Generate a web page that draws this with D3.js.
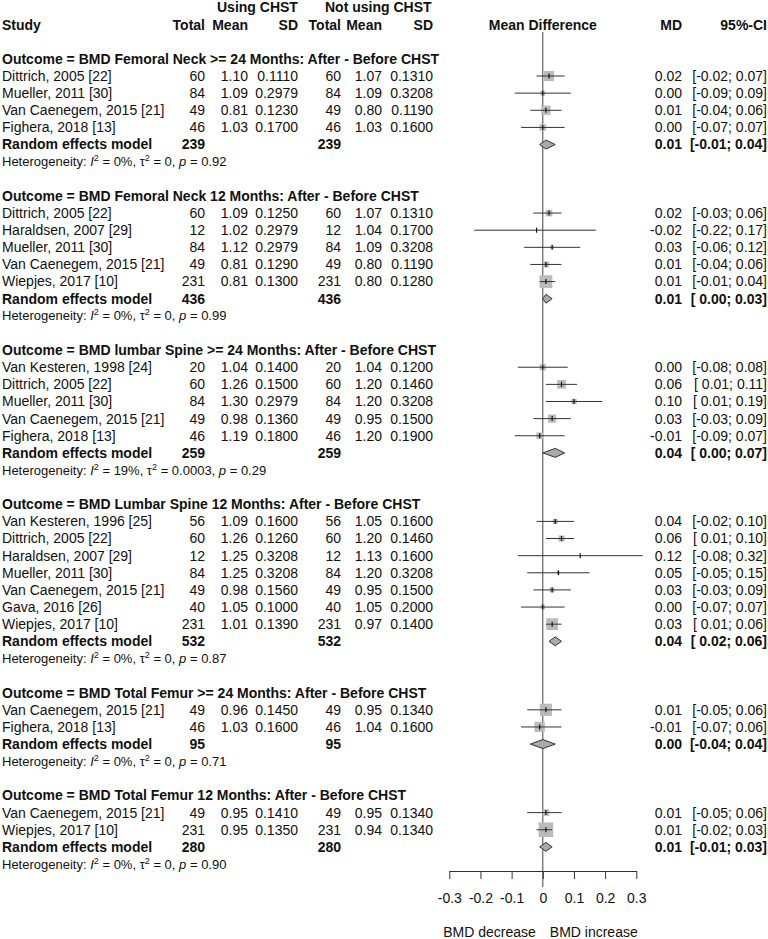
<!DOCTYPE html>
<html><head><meta charset="utf-8">
<script src="https://cdn.jsdelivr.net/npm/d3@7"></script>
<style>
body{margin:0;background:#fff;}
svg text{font-family:"Liberation Sans",Arial,sans-serif;fill:#111;white-space:pre;}
</style></head><body>
<svg id="chart" width="768" height="939"></svg>
<script>
// ---------------- data ----------------
const outcomeLabels = [
  "Outcome = BMD Femoral Neck >= 24 Months: After - Before CHST",
  "Outcome = BMD Femoral Neck 12 Months: After - Before CHST",
  "Outcome = BMD lumbar Spine >= 24 Months: After - Before CHST",
  "Outcome = BMD Lumbar Spine 12 Months: After - Before CHST",
  "Outcome = BMD Total Femur >= 24 Months: After - Before CHST",
  "Outcome = BMD Total Femur 12 Months: After - Before CHST"
];
const studyGroup = [0,0,0,0, 1,1,1,1,1, 2,2,2,2,2, 3,3,3,3,3,3,3, 4,4, 5,5];
const studyName = [
  "Dittrich, 2005 [22]","Mueller, 2011 [30]","Van Caenegem, 2015 [21]","Fighera, 2018 [13]",
  "Dittrich, 2005 [22]","Haraldsen, 2007 [29]","Mueller, 2011 [30]","Van Caenegem, 2015 [21]","Wiepjes, 2017 [10]",
  "Van Kesteren, 1998 [24]","Dittrich, 2005 [22]","Mueller, 2011 [30]","Van Caenegem, 2015 [21]","Fighera, 2018 [13]",
  "Van Kesteren, 1996 [25]","Dittrich, 2005 [22]","Haraldsen, 2007 [29]","Mueller, 2011 [30]","Van Caenegem, 2015 [21]","Gava, 2016 [26]","Wiepjes, 2017 [10]",
  "Van Caenegem, 2015 [21]","Fighera, 2018 [13]",
  "Van Caenegem, 2015 [21]","Wiepjes, 2017 [10]"
];
const totalE = [60,84,49,46, 60,12,84,49,231, 20,60,84,49,46, 56,60,12,84,49,40,231, 49,46, 49,231];
const meanE  = [1.10,1.09,0.81,1.03, 1.09,1.02,1.12,0.81,0.81, 1.04,1.26,1.30,0.98,1.19, 1.09,1.26,1.25,1.25,0.98,1.05,1.01, 0.96,1.03, 0.95,0.95];
const sdE    = [0.1110,0.2979,0.1230,0.1700, 0.1250,0.2979,0.2979,0.1290,0.1300, 0.1400,0.1500,0.2979,0.1360,0.1800, 0.1600,0.1260,0.3208,0.3208,0.1560,0.1000,0.1390, 0.1450,0.1600, 0.1410,0.1350];
const totalC = [60,84,49,46, 60,12,84,49,231, 20,60,84,49,46, 56,60,12,84,49,40,231, 49,46, 49,231];
const meanC  = [1.07,1.09,0.80,1.03, 1.07,1.04,1.09,0.80,0.80, 1.04,1.20,1.20,0.95,1.20, 1.05,1.20,1.13,1.20,0.95,1.05,0.97, 0.95,1.04, 0.95,0.94];
const sdC    = [0.1310,0.3208,0.1190,0.1600, 0.1310,0.1700,0.3208,0.1190,0.1280, 0.1200,0.1460,0.3208,0.1500,0.1900, 0.1600,0.1460,0.1600,0.3208,0.1500,0.2000,0.1400, 0.1340,0.1600, 0.1340,0.1340];
const md     = [0.02,0.00,0.01,0.00, 0.02,-0.02,0.03,0.01,0.01, 0.00,0.06,0.10,0.03,-0.01, 0.04,0.06,0.12,0.05,0.03,0.00,0.03, 0.01,-0.01, 0.01,0.01];
const ciLow  = [-0.02,-0.09,-0.04,-0.07, -0.03,-0.22,-0.06,-0.04,-0.01, -0.08,0.01,0.01,-0.03,-0.09, -0.02,0.01,-0.08,-0.05,-0.03,-0.07,0.01, -0.05,-0.07, -0.05,-0.02];
const ciHigh = [0.07,0.09,0.06,0.07, 0.06,0.17,0.12,0.06,0.04, 0.08,0.11,0.19,0.09,0.07, 0.10,0.10,0.32,0.15,0.09,0.07,0.06, 0.06,0.06, 0.06,0.03];
const weightPct = [40.8,8.8,33.5,16.9, 16.8,0.9,4.0,14.6,63.7, 15.2,29.4,11.8,26.7,17.0, 10.0,14.7,0.85,3.7,9.5,7.3,54.0, 58.3,41.7, 16.9,83.1];

const pooledTotalE = [239,436,259,532,95,280];
const pooledTotalC = [239,436,259,532,95,280];
const pooledMD     = [0.01,0.01,0.04,0.04,0.00,0.01];
const pooledLow    = [-0.01,0.00,0.00,0.02,-0.04,-0.01];
const pooledHigh   = [0.04,0.03,0.07,0.06,0.04,0.03];
const hetI2   = ["0%","0%","19%","0%","0%","0%"];
const hetTau2 = ["0","0","0.0003","0","0","0"];
const hetP    = ["0.92","0.99","0.29","0.87","0.71","0.90"];

const xTickValues = [-0.3,-0.2,-0.1,0,0.1,0.2,0.3];
const xTickLabels = ["-0.3","-0.2","-0.1","0","0.1","0.2","0.3"];

// ---------------- layout ----------------
const svg = d3.select("#chart");
svg.append("rect").attr("width",768).attr("height",939).attr("fill","#fff");

const FS = 14;
const x = d3.scaleLinear().domain([-0.3,0.3]).range([449.3,636.3]);
const yRow = d3.scaleLinear().domain([0,50]).range([7.5,864]);
const boxSize = d3.scaleSqrt().domain([0,100]).range([0,16]);

const col = {study:2, nE:205, mE:248, sdE:298, nC:341, mC:382, sdC:433, md:682, ci:767};

const f2 = v => (v<0?"-":"") + Math.abs(v).toFixed(2);
const f4 = v => v.toFixed(4);
const ciStr = (lo,hi) => "[" + (lo<0 ? "-" : " ") + Math.abs(lo).toFixed(2) + "; " + f2(hi) + "]";

function txt(xp, row, s, anchor, bold, size){
  return svg.append("text")
    .attr("x", xp).attr("y", yRow(row)).attr("dy","0.35em")
    .attr("text-anchor", anchor||"start")
    .attr("font-weight", bold?"bold":"normal")
    .attr("font-size", size||FS)
    .attr("xml:space","preserve")
    .text(s);
}

// headers
txt(217,0,"Using CHST","start",true);
txt(325,0,"Not using CHST","start",true);
txt(col.study,1,"Study","start",true);
txt(col.nE,1,"Total","end",true);
txt(col.mE,1,"Mean","end",true);
txt(col.sdE,1,"SD","end",true);
txt(col.nC,1,"Total","end",true);
txt(col.mC,1,"Mean","end",true);
txt(col.sdC,1,"SD","end",true);
txt(x(0),1,"Mean Difference","middle",true);
txt(col.md,1,"MD","end",true);
txt(col.ci,1,"95%-CI","end",true);

// reference line
const plot = svg.append("g");
plot.append("line")
  .attr("x1",x(0)).attr("x2",x(0)).attr("y1",32).attr("y2",887)
  .attr("stroke","#444").attr("stroke-width",1);

// rows
let row = 3;
outcomeLabels.forEach((lab, g) => {
  txt(col.study,row,lab,"start",true);
  row++;
  studyGroup.forEach((sg,i) => {
    if (sg!==g) return;
    txt(col.study,row,studyName[i]);
    txt(col.nE,row,String(totalE[i]),"end");
    txt(col.mE,row,f2(meanE[i]),"end");
    txt(col.sdE,row,f4(sdE[i]),"end");
    txt(col.nC,row,String(totalC[i]),"end");
    txt(col.mC,row,f2(meanC[i]),"end");
    txt(col.sdC,row,f4(sdC[i]),"end");
    txt(col.md,row,f2(md[i]),"end");
    txt(col.ci,row,ciStr(ciLow[i],ciHigh[i]),"end");
    const yy = yRow(row), s = boxSize(weightPct[i]);
    plot.append("rect").attr("x",x(md[i])-s/2).attr("y",yy-s/2)
      .attr("width",s).attr("height",s).attr("fill","#bbbbbb");
    plot.append("line").attr("x1",x(ciLow[i])).attr("x2",x(ciHigh[i]))
      .attr("y1",yy).attr("y2",yy).attr("stroke","#333").attr("stroke-width",1);
    plot.append("line").attr("x1",x(md[i])).attr("x2",x(md[i]))
      .attr("y1",yy-2.5).attr("y2",yy+2.5).attr("stroke","#111").attr("stroke-width",1.2);
    row++;
  });
  // pooled
  txt(col.study,row,"Random effects model","start",true);
  txt(col.nE,row,String(pooledTotalE[g]),"end",true);
  txt(col.nC,row,String(pooledTotalC[g]),"end",true);
  txt(col.md,row,f2(pooledMD[g]),"end",true);
  txt(col.ci,row,ciStr(pooledLow[g],pooledHigh[g]),"end",true);
  const yy = yRow(row), h = 4.5;
  plot.append("path")
    .attr("d", `M${x(pooledLow[g])},${yy}L${x(pooledMD[g])},${yy-h}L${x(pooledHigh[g])},${yy}L${x(pooledMD[g])},${yy+h}Z`)
    .attr("fill","#a9a9a9").attr("stroke","#333").attr("stroke-width",1);
  row++;
  // heterogeneity
  const t = svg.append("text").attr("x",col.study).attr("y",yRow(row)).attr("dy","0.35em")
    .attr("font-size",13).attr("xml:space","preserve");
  t.append("tspan").text("Heterogeneity: ");
  t.append("tspan").attr("font-style","italic").text("I");
  t.append("tspan").attr("font-size",9).attr("dy",-5).text("2");
  t.append("tspan").attr("dy",5).text(" = " + hetI2[g] + ", \u03c4");
  t.append("tspan").attr("font-size",9).attr("dy",-5).text("2");
  t.append("tspan").attr("dy",5).text(" = " + hetTau2[g] + ", ");
  t.append("tspan").attr("font-style","italic").text("p");
  t.append("tspan").text(" = " + hetP[g]);
  row += 2;
});

// axis
const axis = d3.axisBottom(x).tickValues(xTickValues)
  .tickFormat((d,i)=>xTickLabels[i]).tickSize(8).tickSizeOuter(0).tickPadding(14);
const ax = svg.append("g").attr("transform","translate(0,871)").call(axis);
ax.select(".domain").attr("stroke","#333");
ax.selectAll(".tick line").attr("stroke","#333");
ax.selectAll(".tick text").attr("font-size",FS).attr("font-family","Liberation Sans, Arial, sans-serif").attr("fill","#111");

svg.append("text").attr("x",x(0)-7).attr("y",932).attr("dy","0.35em")
  .attr("text-anchor","end").attr("font-size",FS).text("BMD decrease");
svg.append("text").attr("x",x(0)+7).attr("y",932).attr("dy","0.35em")
  .attr("text-anchor","start").attr("font-size",FS).text("BMD increase");
</script></body></html>
